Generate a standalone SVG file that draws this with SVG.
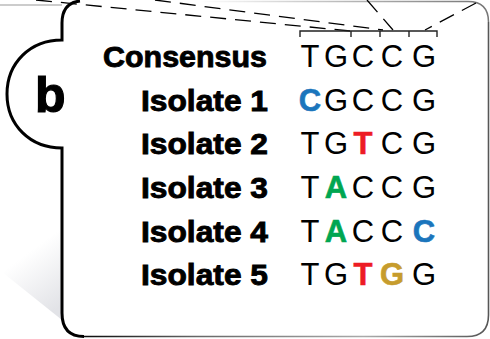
<svg xmlns="http://www.w3.org/2000/svg" width="490" height="339" viewBox="0 0 490 339">
  <style>
    .lbl { font-family: "Liberation Sans", Arial, sans-serif; font-weight: bold; font-size: 30px; fill: #000; stroke: #000; stroke-width: 0.9; text-anchor: end; }
    .seq { font-family: "Liberation Sans", Arial, sans-serif; font-size: 31px; fill: #000; text-anchor: middle; }
    .mut { font-weight: bold; stroke-width: 0.6; }
    .blue { fill: #1b75bc; stroke: #1b75bc; }
    .red { fill: #ed1c24; stroke: #ed1c24; }
    .green { fill: #00a651; stroke: #00a651; }
    .gold { fill: #c69c2d; stroke: #c69c2d; }
    .dash { fill: none; stroke: #000; stroke-width: 1.3; stroke-dasharray: 16 9; }
    .brk { fill: none; stroke: #222; stroke-width: 1.4; }
  </style>
  <defs>
    <linearGradient id="shadowGrad" x1="62" y1="305" x2="25" y2="255" gradientUnits="userSpaceOnUse">
      <stop offset="0" stop-color="#e2e3e7"/>
      <stop offset="1" stop-color="#ffffff"/>
    </linearGradient>
    <linearGradient id="bottomGrad" x1="70" y1="0" x2="490" y2="0" gradientUnits="userSpaceOnUse">
      <stop offset="0" stop-color="#000"/>
      <stop offset="0.3" stop-color="#666"/>
      <stop offset="0.7" stop-color="#aaa"/>
      <stop offset="1" stop-color="#555"/>
    </linearGradient>
    <linearGradient id="topGrad" x1="200" y1="0" x2="480" y2="0" gradientUnits="userSpaceOnUse">
      <stop offset="0" stop-color="#fff"/>
      <stop offset="1" stop-color="#777"/>
    </linearGradient>
  </defs>

  <g id="panel">
    <polygon points="62,212 2,272 62,320" fill="url(#shadowGrad)"/>
    <line x1="0" y1="5" x2="62" y2="5" stroke="#999" stroke-width="1"/>
    <path d="M200,1.5 L468,1.5 Q488.5,1.5 488.5,22" fill="none" stroke="url(#topGrad)" stroke-width="1.5"/>
    <path d="M488.5,22 L488.5,315 Q488.5,336.5 467,336.5 L84,336.5" fill="none" stroke="url(#bottomGrad)" stroke-width="1.6"/>
    <path d="M80,1 Q62,3 62,23 L62,40 C30,40 7,63 7,94 C7,125 30,148 62,148 L62,313 Q62,336.5 84,336.5" fill="none" stroke="#000" stroke-width="3"/>
  </g>

  <g id="connectors">
    <line class="dash" x1="36" y1="0" x2="350" y2="31"/>
    <line class="dash" x1="155" y1="0" x2="383" y2="30"/>
    <line class="dash" x1="367" y1="0" x2="393" y2="30"/>
    <line class="dash" x1="476" y1="3" x2="425" y2="30"/>
    <path class="brk" d="M300,37 L300,31 L437,31 L437,37 M351,31 L351,37 M380,31 L380,37 M409,31 L409,37"/>
  </g>

  <g id="panel-label">
    <text x="35" y="112" font-family="Liberation Sans, Arial, sans-serif" font-weight="bold" font-size="50" stroke="#000" stroke-width="1.2">b</text>
  </g>

  <g id="row-consensus">
    <text class="lbl" x="267" y="67" textLength="164" lengthAdjust="spacingAndGlyphs">Consensus</text>
    <text class="seq" y="67"><tspan x="310">T</tspan><tspan x="336">G</tspan><tspan x="363">C</tspan><tspan x="392">C</tspan><tspan x="424">G</tspan></text>
  </g>
  <g id="row-isolate1">
    <text class="lbl" x="268" y="110.7" textLength="127" lengthAdjust="spacingAndGlyphs">Isolate 1</text>
    <text class="seq" y="110.7"><tspan x="310" class="mut blue">C</tspan><tspan x="336">G</tspan><tspan x="363">C</tspan><tspan x="392">C</tspan><tspan x="424">G</tspan></text>
  </g>
  <g id="row-isolate2">
    <text class="lbl" x="268" y="154.3" textLength="127" lengthAdjust="spacingAndGlyphs">Isolate 2</text>
    <text class="seq" y="154.3"><tspan x="310">T</tspan><tspan x="336">G</tspan><tspan x="363" class="mut red">T</tspan><tspan x="392">C</tspan><tspan x="424">G</tspan></text>
  </g>
  <g id="row-isolate3">
    <text class="lbl" x="268" y="197.9" textLength="127" lengthAdjust="spacingAndGlyphs">Isolate 3</text>
    <text class="seq" y="197.9"><tspan x="310">T</tspan><tspan x="336" class="mut green">A</tspan><tspan x="363">C</tspan><tspan x="392">C</tspan><tspan x="424">G</tspan></text>
  </g>
  <g id="row-isolate4">
    <text class="lbl" x="268" y="241.5" textLength="127" lengthAdjust="spacingAndGlyphs">Isolate 4</text>
    <text class="seq" y="241.5"><tspan x="310">T</tspan><tspan x="336" class="mut green">A</tspan><tspan x="363">C</tspan><tspan x="392">C</tspan><tspan x="424" class="mut blue">C</tspan></text>
  </g>
  <g id="row-isolate5">
    <text class="lbl" x="268" y="285" textLength="127" lengthAdjust="spacingAndGlyphs">Isolate 5</text>
    <text class="seq" y="285"><tspan x="310">T</tspan><tspan x="336">G</tspan><tspan x="363" class="mut red">T</tspan><tspan x="392" class="mut gold">G</tspan><tspan x="424">G</tspan></text>
  </g>
</svg>
